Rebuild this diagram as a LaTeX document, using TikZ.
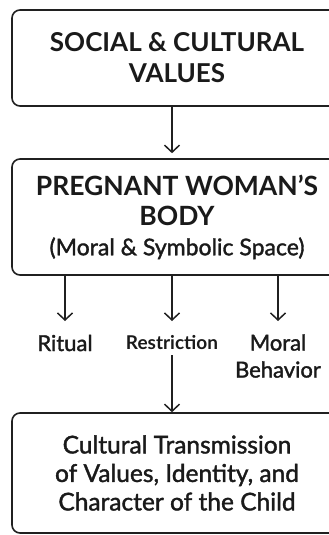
\documentclass[tikz,border=0pt]{standalone}
\usepackage{fontspec}
\setmainfont{Lato}
\usepackage{xcolor}
\usepackage{tikz}
\usetikzlibrary{arrows.meta,positioning}
\definecolor{ink}{HTML}{1A1A1A}
\definecolor{frame}{HTML}{202020}
\newfontfamily\semifont{Lato}[FakeBold=1.5]
\tikzset{
  valuebox/.style={draw=frame,line width=1.6pt,rounded corners=8pt,fill=white,
    align=center,text=ink,minimum width=330pt,inner sep=0pt},
  leaflabel/.style={align=center,text=ink,inner sep=1pt,font=\semifont\fontsize{22}{27}\selectfont},
  downarrow/.style={-{Straight Barb[length=7pt,width=15pt,line width=1.5pt]},line width=1.5pt,draw=frame}
}

\begin{document}
\begin{tikzpicture}[x=1pt,y=-1pt]
\fill[white] (0,0) rectangle (329,535);
\clip (0,0) rectangle (329,535);
\node[valuebox,minimum height=96pt,font=\bfseries\fontsize{26}{31}\selectfont] (social) at (177,58) {SOCIAL \& CULTURAL\\VALUES};
\node[valuebox,minimum height=116pt,font=\bfseries\fontsize{26.5}{30}\selectfont] (body) at (177,217) {PREGNANT WOMAN’S\\BODY\\\semifont\mdseries\fontsize{23}{31}\selectfont(Moral \& Symbolic Space)};
\node[leaflabel] (ritual) at (65,343) {Ritual};
\node[leaflabel,font=\bfseries\fontsize{19}{22}\selectfont] (restriction) at (172,343) {Restriction};
\node[leaflabel] (moral) at (278,356) {Moral\\Behavior};
\node[valuebox,minimum height=120pt,font=\semifont\fontsize{24.5}{28.5}\selectfont] (child) at (177,473) {Cultural Transmission\\of Values, Identity, and\\Character of the Child};
\coordinate (tips) at (0,321);
\draw[downarrow] (social.south -| restriction) -- ([yshift=5pt]body.north -| restriction);
\draw[downarrow] (body.south -| ritual) -- (tips -| ritual);
\draw[downarrow] (body.south -| restriction) -- (tips -| restriction);
\draw[downarrow] (body.south -| moral) -- (tips -| moral);
\draw[downarrow] ([yshift=-4pt]restriction.south) -- (child.north -| restriction);
\end{tikzpicture}
\end{document}
